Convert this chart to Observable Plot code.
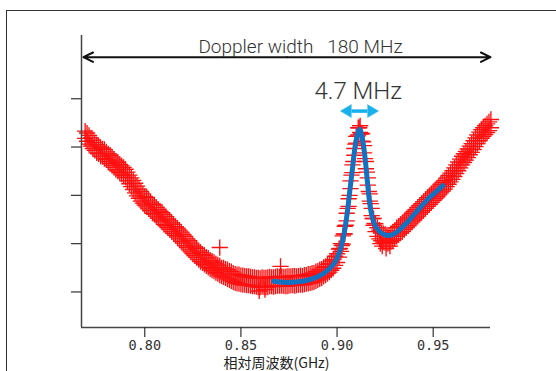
<!DOCTYPE html>
<html><head><meta charset="utf-8">
<script src="https://cdn.jsdelivr.net/npm/d3@7"></script>
<script src="https://cdn.jsdelivr.net/npm/@observablehq/plot@0.6"></script>
<style>
body{margin:0;background:#fff;width:556px;height:371px;overflow:hidden;position:relative}
#border{position:absolute;left:6px;top:10px;width:620px;height:420px;border:1px solid #333;box-sizing:border-box}
#chart{position:absolute;left:0;top:0}
</style></head><body><div id="border"></div><div id="chart"></div>
<script>
// measured signal (relative frequency in GHz, signal in arbitrary units), two readings per frequency
const freq = [
0.769,0.770,0.771,0.772,0.773,0.774,0.775,0.776,0.777,0.778,0.779,0.780,
0.781,0.782,0.783,0.784,0.785,0.786,0.787,0.788,0.789,0.790,
0.791,0.792,0.793,0.794,0.795,0.796,0.797,0.798,0.799,0.800,
0.801,0.802,0.803,0.804,0.805,0.806,0.807,0.808,0.809,0.810,
0.811,0.812,0.813,0.814,0.815,0.816,0.817,0.818,0.819,0.820,
0.821,0.822,0.823,0.824,0.825,0.826,0.827,0.828,0.829,0.830,
0.831,0.832,0.833,0.834,0.835,0.836,0.837,0.838,0.839,0.840,
0.841,0.842,0.843,0.844,0.845,0.846,0.847,0.848,0.849,0.850,
0.851,0.852,0.853,0.854,0.855,0.856,0.857,0.858,0.859,0.860,
0.861,0.862,0.863,0.864,0.865,0.866,0.867,0.868,0.869,0.870,
0.871,0.872,0.873,0.874,0.875,0.876,0.877,0.878,0.879,0.880,
0.881,0.882,0.883,0.884,0.885,0.886,0.887,0.888,0.889,0.890,
0.891,0.892,0.893,0.894,0.895,0.896,0.897,0.898,0.899,0.900,
0.901,0.902,0.903,0.904,0.905,0.906,0.907,0.908,0.909,0.910,0.911,0.912,
0.913,0.914,0.915,0.916,0.917,0.918,0.919,0.920,
0.921,0.922,0.923,0.924,0.925,0.926,0.927,0.928,0.929,0.930,
0.931,0.932,0.933,0.934,0.935,0.936,0.937,0.938,0.939,0.940,
0.941,0.942,0.943,0.944,0.945,0.946,0.947,0.948,0.949,0.950,
0.951,0.952,0.953,0.954,0.955,0.956,0.957,0.958,0.959,0.960,
0.961,0.962,0.963,0.964,0.965,0.966,0.967,0.968,0.969,0.970,
0.971,0.972,0.973,0.974,0.975,0.976,0.977,0.978,0.979,0.980];
const sigA = [
4.33,4.12,4.24,4.02,4.14,3.93,4.05,3.86,3.99,3.80,3.95,3.74,
3.86,3.66,3.79,3.58,3.71,3.50,3.64,3.44,3.58,3.37,
3.48,3.24,3.36,3.12,3.25,2.99,3.13,2.88,3.03,2.80,
2.95,2.72,2.86,2.63,2.80,2.57,2.71,2.49,2.64,2.40,
2.56,2.33,2.47,2.25,2.40,2.17,2.32,2.10,2.24,2.01,
2.15,1.92,2.06,1.83,1.97,1.75,1.90,1.67,1.82,1.60,
1.76,1.54,1.70,1.48,1.64,1.43,1.58,1.38,1.54,1.33,
1.50,1.29,1.46,1.25,1.42,1.21,1.37,1.18,1.36,1.16,
1.34,1.15,1.32,1.14,1.31,1.12,1.30,1.11,1.29,1.10,
1.30,1.11,1.29,1.10,1.31,1.12,1.30,1.12,1.32,1.13,
1.32,1.13,1.31,1.12,1.32,1.14,1.33,1.13,1.32,1.15,
1.34,1.15,1.35,1.17,1.37,1.19,1.39,1.21,1.42,1.25,
1.46,1.29,1.51,1.35,1.57,1.41,1.64,1.49,1.74,1.61,
1.89,1.84,2.16,2.20,2.63,2.77,3.30,3.47,3.97,4.08,4.40,4.30,
4.28,3.88,3.70,3.21,3.03,2.58,2.52,2.25,
2.33,2.10,2.22,2.03,2.19,2.00,2.17,2.04,2.24,2.10,
2.33,2.18,2.40,2.25,2.47,2.33,2.55,2.41,2.63,2.49,
2.71,2.57,2.79,2.65,2.87,2.73,2.95,2.81,3.03,2.89,
3.11,2.97,3.19,3.05,3.27,3.13,3.36,3.23,3.46,3.33,
3.57,3.45,3.69,3.57,3.81,3.68,3.91,3.78,4.02,3.89,
4.13,4.01,4.25,4.13,4.36,4.22,4.44,4.30,4.52,4.40];
const sigB = [
4.18,4.29,4.06,4.19,3.97,4.09,3.88,4.02,3.81,3.96,3.76,3.90,
3.70,3.83,3.62,3.75,3.53,3.68,3.47,3.61,3.41,3.54,
3.30,3.42,3.18,3.31,3.05,3.19,2.94,3.08,2.84,2.98,
2.76,2.90,2.68,2.82,2.61,2.75,2.53,2.67,2.45,2.60,
2.37,2.51,2.29,2.43,2.21,2.35,2.14,2.28,2.05,2.19,
1.96,2.10,1.87,2.01,1.79,1.93,1.71,1.85,1.63,1.78,
1.57,1.72,1.51,1.66,1.45,1.61,1.40,1.56,1.35,1.50,
1.31,1.47,1.27,1.43,1.23,1.39,1.19,1.36,1.17,1.34,
1.15,1.33,1.14,1.32,1.13,1.30,1.12,1.29,1.10,1.28,
1.11,1.29,1.10,1.30,1.12,1.30,1.11,1.31,1.13,1.31,
1.13,1.31,1.12,1.32,1.13,1.32,1.14,1.33,1.14,1.33,
1.15,1.33,1.16,1.35,1.18,1.37,1.20,1.39,1.23,1.43,
1.27,1.47,1.32,1.53,1.38,1.59,1.45,1.67,1.55,1.79,
1.72,2.00,1.99,2.36,2.47,2.93,3.14,3.63,3.83,4.22,4.25,4.44,
4.12,4.03,3.55,3.36,2.88,2.73,2.38,2.41,
2.15,2.28,2.06,2.21,2.02,2.18,2.01,2.20,2.07,2.27,
2.15,2.36,2.22,2.43,2.29,2.51,2.37,2.59,2.45,2.67,
2.53,2.75,2.61,2.83,2.69,2.91,2.77,2.99,2.85,3.07,
2.93,3.15,3.01,3.23,3.09,3.31,3.18,3.41,3.28,3.51,
3.39,3.63,3.51,3.75,3.63,3.86,3.73,3.96,3.84,4.07,
3.95,4.19,4.07,4.31,4.18,4.40,4.26,4.48,4.34,4.57];
// additional readings around the peak and a few outliers
const extraFreq = [0.9015,0.9025,0.9035,0.9045,0.9055,0.9065,0.9075,0.9085,0.9095,0.9105,0.9115,0.9125,0.9135,0.9145,0.9155,0.9165,0.9175,0.9185,0.9195,0.9225,0.9235,0.9255,0.9275,0.839,0.8706,0.8595,0.8625];
const extraSig  = [1.90,1.96,2.20,2.38,2.73,3.00,3.42,3.70,4.06,4.22,4.40,4.27,4.11,3.76,3.48,3.08,2.83,2.52,2.42,2.00,1.95,1.90,1.95,1.92,1.53,1.02,1.05];
// fitted curve
const fitFreq = [0.867,0.872,0.877,0.882,0.887,0.892,0.896,0.899,0.901,0.903,0.905,0.9065,0.908,0.909,0.910,0.911,0.9117,0.9125,0.9135,0.9145,0.9155,0.9165,0.9175,0.919,0.921,0.923,0.925,0.927,0.929,0.932,0.936,0.940,0.944,0.948,0.952,0.955];
const fitSig  = [1.22,1.20,1.20,1.22,1.27,1.36,1.48,1.62,1.80,2.07,2.55,3.05,3.55,3.90,4.15,4.32,4.37,4.30,4.10,3.80,3.40,3.00,2.70,2.45,2.30,2.22,2.18,2.17,2.19,2.27,2.42,2.60,2.78,2.95,3.09,3.20];
// axes
const xTicks = [0.80, 0.85, 0.90, 0.95];
const yTicks = [1, 2, 3, 4, 5];
const xDomain = [0.7671, 0.9798];
const yDomain = [0.264, 6.309];
const xLabel = "相対周波数(GHz)";
// annotations
const dopplerText = "Doppler width\u00a0\u00a0\u00a0180 MHz";
const dopplerSpan = [0.7681, 0.9798];
const dopplerLevel = 5.86;
const dopplerTextPos = [0.881, 6.082];
const lineText = "4.7 MHz";
const lineTextPos = [0.911, 5.145];
const lineSpan = [0.9075, 0.9158];
const lineLevel = 4.744;

const points = freq.flatMap((f, i) => [{x: f, y: sigA[i]}, {x: f, y: sigB[i]}])
  .concat(extraFreq.map((f, i) => ({x: f, y: extraSig[i]})));
const fit = fitFreq.map((f, i) => ({x: f, y: fitSig[i]}));
const mid = (dopplerSpan[0] + dopplerSpan[1]) / 2;

const chart = Plot.plot({
  width: 556, height: 371,
  marginLeft: 81, marginRight: 66, marginTop: 35, marginBottom: 44,
  x: {domain: xDomain},
  y: {domain: yDomain},
  style: {background: "transparent", color: "#333", fontFamily: "DejaVu Sans Mono"},
  marks: [
    Plot.dot(points, {x: "x", y: "y", symbol: "plus", r: 5.3, stroke: "#ff1010", strokeWidth: 1.35}),
    Plot.line(fit, {x: "x", y: "y", stroke: "#1470c0", strokeWidth: 5, curve: "catmull-rom"}),
    Plot.ruleX([xDomain[0]], {stroke: "#444", strokeWidth: 1.5}),
    Plot.ruleY([yDomain[0]], {stroke: "#444", strokeWidth: 1.5}),
    Plot.axisX(xTicks, {tickSize: 10, tickPadding: 3, tickFormat: d3.format(".2f"), label: null, color: "#333", strokeWidth: 1.2, fontSize: 13.5, fontFamily: "DejaVu Sans Mono"}),
    Plot.axisY(yTicks, {tickSize: 10, tickFormat: () => "", label: null, color: "#333", strokeWidth: 1.2}),
    Plot.text([xLabel], {x: () => 0.8685, frameAnchor: "bottom", dy: 36, fontSize: 14, fontFamily: "Noto Sans CJK JP", fill: "#222", lineAnchor: "middle"}),
    Plot.arrow([dopplerSpan[0], dopplerSpan[1]], {x1: () => mid, x2: d => d, y1: () => dopplerLevel, y2: () => dopplerLevel, stroke: "#111", strokeWidth: 2, headLength: 8, headAngle: 52}),
    Plot.text([dopplerText], {x: () => dopplerTextPos[0], y: () => dopplerTextPos[1], fontSize: 19, fontFamily: "Roboto", fontWeight: 300, fill: "#333", lineAnchor: "middle"}),
    Plot.text([lineText], {x: () => lineTextPos[0], y: () => lineTextPos[1], fontSize: 24, fontFamily: "Roboto", fontWeight: 300, fill: "#333", lineAnchor: "middle"}),
    Plot.link([0], {x1: () => lineSpan[0], x2: () => lineSpan[1], y1: () => lineLevel, y2: () => lineLevel, stroke: "#1ab0ec", strokeWidth: 3.5}),
    Plot.vector([-90, 90], {x: (d, i) => lineSpan[i], y: () => lineLevel, rotate: d => d, shape: "spike", length: 11, r: 6.5, fill: "#1ab0ec", stroke: "#1ab0ec", strokeWidth: 0.5, anchor: "start"})
  ]
});
document.getElementById("chart").appendChild(chart);
</script></body></html>
